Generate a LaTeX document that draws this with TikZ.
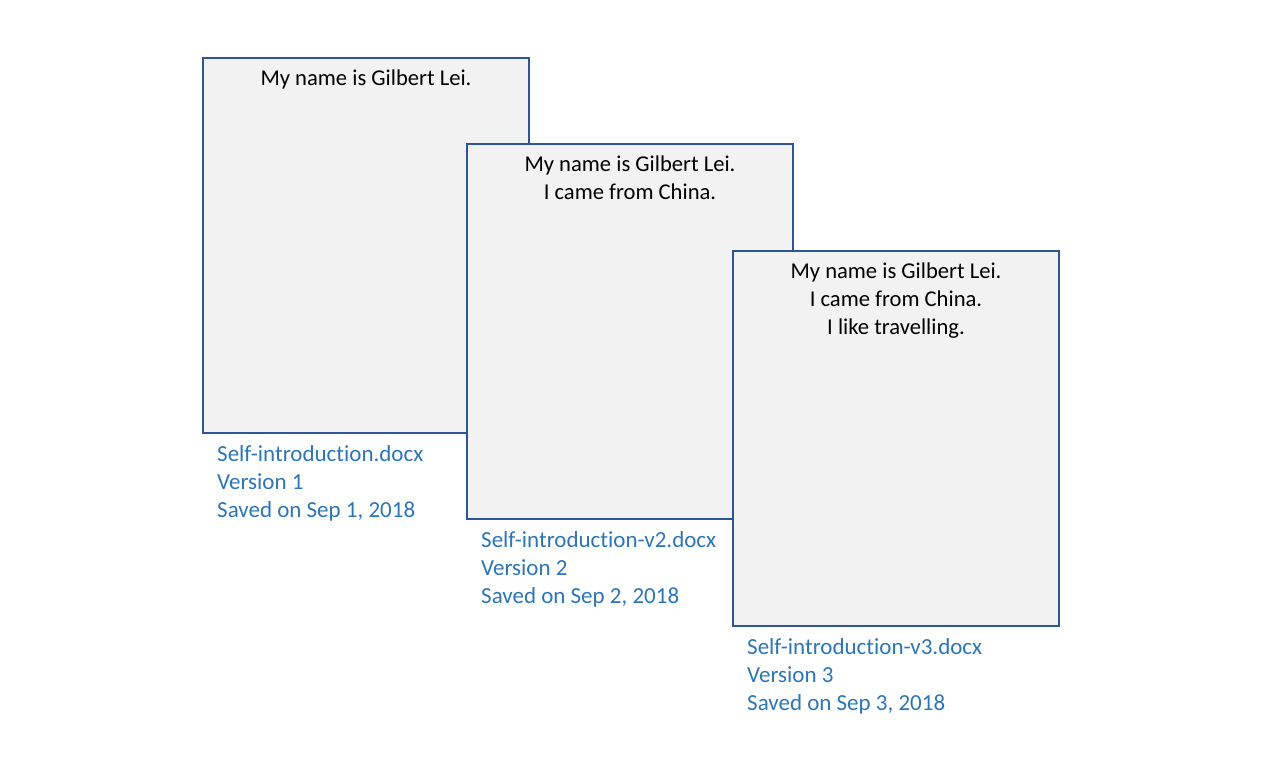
\documentclass[tikz,border=0pt]{standalone}
\usepackage{fontspec}
\setmainfont[Ligatures=NoCommon]{Carlito}
\usetikzlibrary{positioning}
\definecolor{docline}{HTML}{2F5597}
\definecolor{docfill}{HTML}{F2F2F2}
\definecolor{infoblue}{HTML}{2E75B6}
\tikzset{
  doc/.style={draw=docline, fill=docfill, line width=2pt, anchor=north west,
    minimum width=326pt, minimum height=375pt, inner sep=0pt},
  doctext/.style={anchor=north, align=center, inner sep=0pt,
    font=\fontsize{22.6}{28}\selectfont},
  info/.style={anchor=north west, align=left, inner sep=0pt, text=infoblue,
    font=\fontsize{23}{28}\selectfont}
}
\begin{document}
\begin{tikzpicture}[x=1pt, y=-1pt]
      \useasboundingbox (0,0) rectangle (1270,773);

      % version 1
      \node[doc] (v1) at (202,57) {};
      \node[doctext] (t1) at ([yshift=-13pt]v1.north) {My name is Gilbert Lei.};
      \node[info] (i1) at ([xshift=15pt, yshift=-11pt]v1.south west)
        {Self-introduction.docx\\Version 1\\Saved on Sep 1, 2018};

      % version 2
      \node[doc] (v2) at (466,143) {};
      \node[doctext] (t2) at ([yshift=-13pt]v2.north)
        {My name is Gilbert Lei.\\I came from China.};
      \node[info] (i2) at ([xshift=15pt, yshift=-11pt]v2.south west)
        {Self-introduction-v2.docx\\Version 2\\Saved on Sep 2, 2018};

      % version 3
      \node[doc] (v3) at (732,250) {};
      \node[doctext] (t3) at ([yshift=-13pt]v3.north)
        {My name is Gilbert Lei.\\I came from China.\\I like travelling.};
      \node[info] (i3) at ([xshift=15pt, yshift=-11pt]v3.south west)
        {Self-introduction-v3.docx\\Version 3\\Saved on Sep 3, 2018};
\end{tikzpicture}
\end{document}
